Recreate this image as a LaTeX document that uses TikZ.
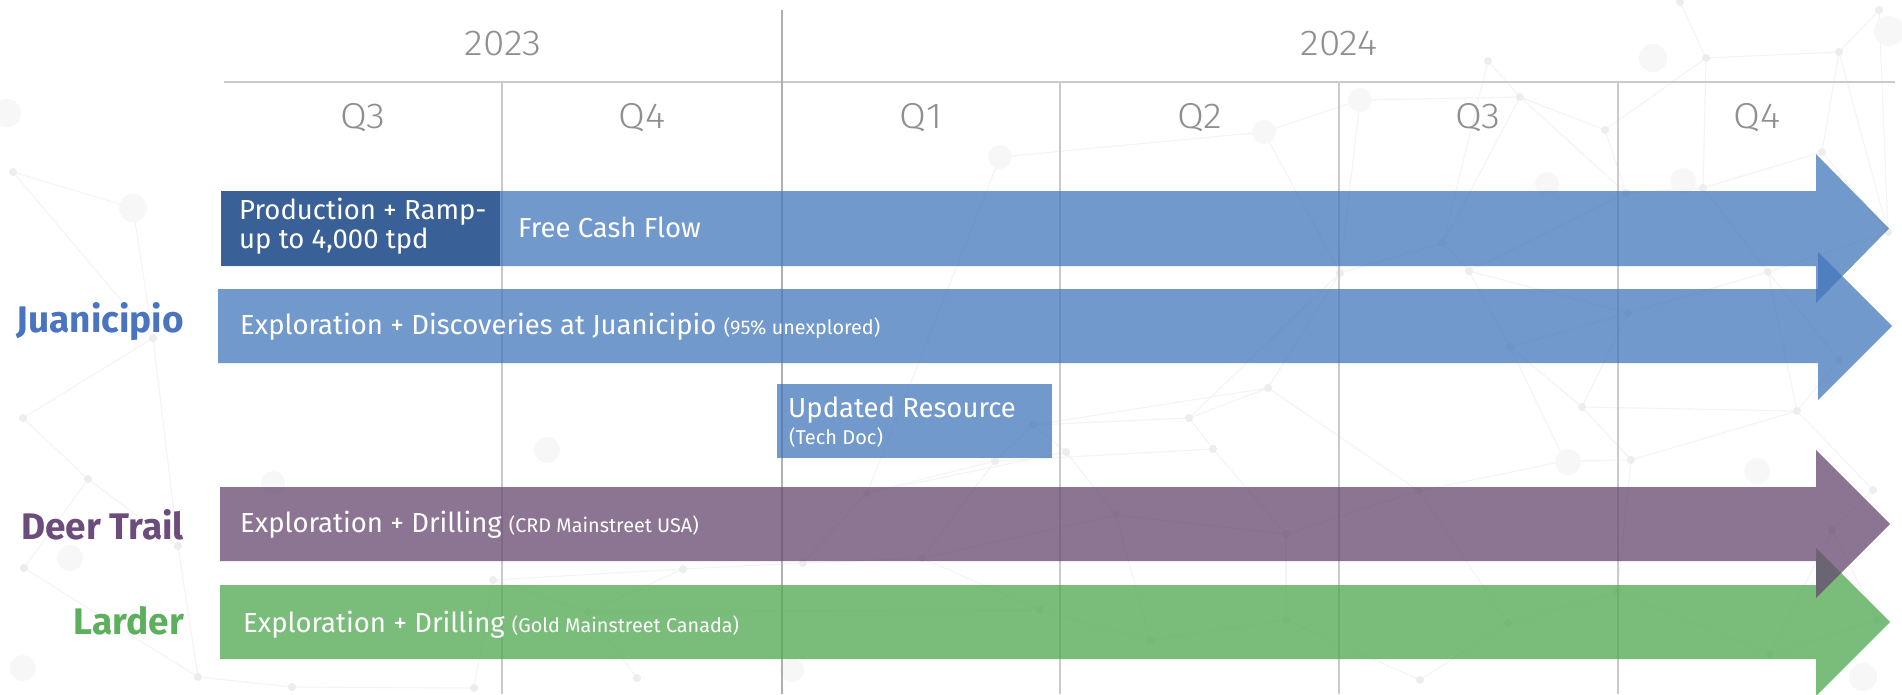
\documentclass[tikz,border=0pt]{standalone}
\usepackage{fontspec}
\setmainfont{Fira Sans}
\newfontfamily\hdrfont{Fira Sans Light}[FakeStretch=1.08]

\definecolor{gridgray}{HTML}{CACACA}
\definecolor{yeargray}{HTML}{B0B0B0}
\definecolor{hdrtext}{HTML}{8F8F8F}
\definecolor{jblue}{HTML}{4477BA}
\definecolor{jdark}{HTML}{3A6197}
\definecolor{dpurple}{HTML}{66476F}
\definecolor{lgreen}{HTML}{4EA84F}
\definecolor{lbljuan}{HTML}{4A74C0}
\definecolor{lbldeer}{HTML}{6B4C7C}
\definecolor{lbllard}{HTML}{5CAF5C}
\definecolor{netline}{HTML}{F4F4F4}
\definecolor{netdot}{HTML}{EDEDED}
\definecolor{netblob}{HTML}{F7F7F7}

\newcommand\barfont{\fontsize{27.5}{30}\selectfont}
\newcommand\notefont{\fontsize{19.8}{22}\selectfont}

% timeline bar with arrow head: #1 colour, #2 x start, #3 top, #4 bottom, #5 head base, #6 tip
\newcommand\timebar[6]{%
  \fill[#1, fill opacity=0.75] (#2,#3) -- (#5,#3) -- (#5,{#3-37}) -- (#6,{(#3+#4)/2})
    -- (#5,{#4+37}) -- (#5,#4) -- (#2,#4) -- cycle;}

\tikzset{
  gridline/.style={draw=gridgray, line width=1.4pt},
  hdr/.style={anchor=base, inner sep=0pt, text=hdrtext, font=\hdrfont\fontsize{36}{38}\selectfont},
  bartext/.style={anchor=base west, inner sep=0pt, text=white, font=\barfont},
  rowlabel/.style={anchor=base east, inner sep=0pt, font=\bfseries\fontsize{37}{40}\selectfont},
}

\begin{document}
\begin{tikzpicture}[x=1pt, y=-1pt]
\useasboundingbox (0,0) rectangle (1902,694);
\fill[white] (0,0) rectangle (1902,694);

% faint network texture in the background
\foreach \i/\x/\y in {1/13/172, 3/133/208, 4/153/338, 5/23/418, 6/88/479, 7/24/568,
  8/178/546, 9/198/677, 10/292/687, 12/474/688, 13/493/580, 14/588/612, 15/637/678,
  16/683/569, 17/803/563, 18/867/493, 20/1033/425, 21/1066/452, 22/995/461, 23/922/558,
  24/1116/515, 25/1189/418, 26/1268/388, 27/1286/534, 28/1419/491, 29/1340/273,
  30/1443/243, 31/1000/157, 32/1264/132, 33/1360/100, 34/1520/97, 35/1605/130,
  36/1706/58, 37/1839/52, 38/1879/10, 39/1680/2, 40/1822/152, 41/1703/188,
  42/1626/193, 43/1469/271, 44/1768/272, 45/1888/232, 46/1628/313, 47/1510/347,
  48/1839/360, 49/1582/407, 50/1797/411, 51/1631/460, 52/1873/490, 53/1832/530,
  54/1617/592, 55/1508/623, 56/1877/620, 57/1770/654, 58/1565/461, 59/1488/61,
  60/1213/449, 61/1286/620, 62/1150/640, 63/1420/680, 64/1040/610}
  \coordinate (n\i) at (\x,\y);

\foreach \a/\b in {39/36, 36/37, 37/38, 36/35, 36/41, 37/40, 40/41, 40/45, 45/38,
  37/45, 34/35, 34/42, 35/42, 42/41, 42/43, 43/47, 43/46, 46/47, 46/44, 41/44,
  44/45, 44/48, 48/50, 44/50, 49/47, 49/50, 49/51, 46/49, 50/52, 50/51, 51/58,
  58/28, 51/54, 52/53, 53/56, 56/57, 54/55, 54/57, 53/57, 28/27, 28/26, 26/25,
  25/20, 20/21, 21/24, 24/27, 22/20, 22/23, 23/17, 17/18, 18/22, 17/16, 16/14,
  14/13, 13/12, 14/15, 12/10, 10/9, 9/8, 8/6, 6/7, 7/9, 5/6, 5/4, 4/1, 1/3,
  4/8, 30/29, 29/26, 30/43, 30/34, 33/34, 33/29, 32/31, 32/33, 20/26, 25/29,
  23/24, 16/13, 18/21, 47/58, 55/28, 34/59, 59/30, 60/25, 60/22, 60/27, 27/61,
  61/62, 62/64, 64/14, 64/23, 61/63, 63/55, 62/24, 31/18, 3/4, 32/29}
  \draw[netline, line width=1.1pt] (n\a) -- (n\b);

\foreach \i in {1,3,4,...,10,12,13,...,18,20,21,...,64}
  \fill[netdot] (n\i) circle (4);

\foreach \x/\y/\r in {1653/58/14, 1889/31/15, 1683/181/13, 1547/184/12, 1568/462/13,
  1757/471/13, 1863/677/14, 70/558/13, 23/668/13, 792/670/12, 7/113/14, 133/208/14,
  273/483/12, 547/450/13, 1000/157/12, 1264/132/12, 1360/100/12}
  \fill[netblob] (\x,\y) circle (\r);

% time grid
\draw[gridline] (224,82) -- (1895,82);
\foreach \x in {502,1060,1339,1618}
  \draw[gridline] (\x,82) -- (\x,694);
\draw[draw=yeargray, line width=1.5pt] (782,10) -- (782,694);

% years and quarters
\node[hdr] (yr23) at (503,55) {2023};
\node[hdr] (yr24) at (1339,55) {2024};
\node[hdr] (q23c) at (363,128) {Q3};
\node[hdr] (q23d) at (642,128) {Q4};
\node[hdr] (q24a) at (921,128) {Q1};
\node[hdr] (q24b) at (1200,128) {Q2};
\node[hdr] (q24c) at (1478,128) {Q3};
\node[hdr] (q24d) at (1757,128) {Q4};

% Juanicipio
\timebar{jblue}{218}{289}{363}{1818}{1892}
\timebar{jblue}{221}{191}{266}{1816}{1889}
\node[fill=jdark, anchor=north west, inner sep=0pt, minimum width=279pt,
      minimum height=75pt] (prodbox) at (221,191) {};
\node[bartext] (prod1) at (239,219) {Production + Ramp-};
\node[bartext] (prod2) at (239,248) {up to 4,000 tpd};
\node[bartext] (fcf) at (518,237) {Free Cash Flow};

\node[bartext] (juanexp) at (240,334) {Exploration + Discoveries at Juanicipio {\notefont(95\% unexplored)}};

\node[fill=jblue, fill opacity=0.75, anchor=north west, inner sep=0pt,
      minimum width=275pt, minimum height=74pt] (resbox) at (777,384) {};
\node[bartext] (res1) at (788,417) {Updated Resource};
\node[bartext, font=\fontsize{20}{22}\selectfont] (res2) at (789,444) {(Tech Doc)};

% Larder (drawn first so the Deer Trail head lies over it)
\timebar{lgreen}{220}{585}{659}{1816}{1890}
\node[bartext] (lardexp) at (243,632) {Exploration + Drilling {\notefont(Gold Mainstreet Canada)}};

% Deer Trail
\timebar{dpurple}{220}{487}{561}{1816}{1890}
\node[bartext] (deerexp) at (240,532) {Exploration + Drilling {\notefont(CRD Mainstreet USA)}};

% row labels
\node[rowlabel, text=lbljuan] (labjuan) at (184,332) {Juanicipio};
\node[rowlabel, text=lbldeer] (labdeer) at (184,539) {Deer Trail};
\node[rowlabel, text=lbllard] (lablard) at (184,634) {Larder};
\end{tikzpicture}
\end{document}
